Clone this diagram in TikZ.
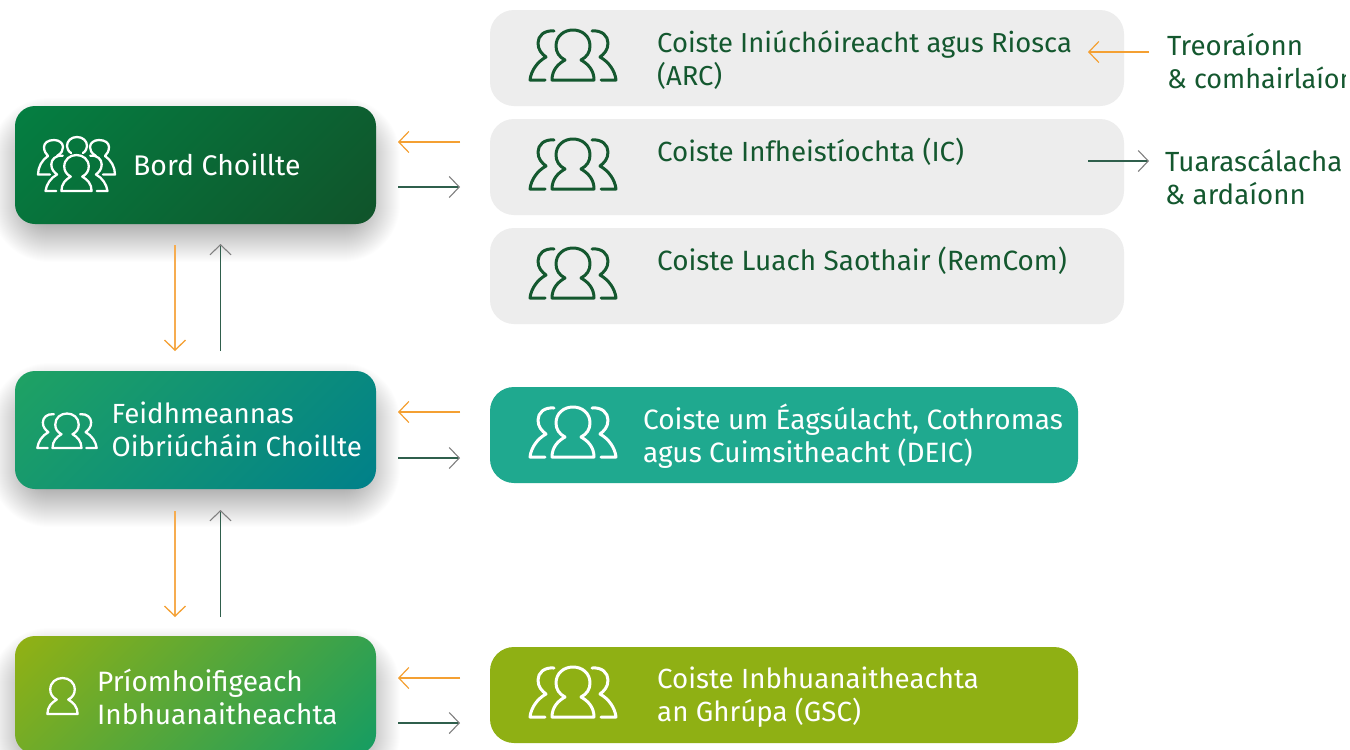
\documentclass[tikz,border=0pt]{standalone}
\usepackage{fontspec}
\setmainfont{Fira Sans}
\usetikzlibrary{arrows.meta}
\definecolor{dkgreen}{HTML}{14582F}
\definecolor{orangeln}{HTML}{F4A032}
\definecolor{orangelt}{HTML}{F6AC50}
\definecolor{tealln}{HTML}{2F5F4C}
\definecolor{greybox}{HTML}{EDEDED}
\definecolor{deicc}{HTML}{1FA98F}
\definecolor{gscc}{HTML}{8FB014}
\definecolor{HTMLa}{HTML}{047F42}
\definecolor{HTMLb}{HTML}{10532A}
\definecolor{HTMLc}{HTML}{1FA263}
\definecolor{HTMLd}{HTML}{00808A}
\definecolor{HTMLe}{HTML}{93B113}
\definecolor{HTMLf}{HTML}{149C63}
\tikzset{
  lbl/.style={inner sep=0pt,anchor=west,align=left,font=\fontsize{27.7}{33}\selectfont},
  darktxt/.style={lbl,text=dkgreen},
  whitetxt/.style={lbl,text=white},
  orangearrow/.style={draw=orangeln,line width=1.2pt,-{Straight Barb[length=10pt,width=21pt,line width=1.2pt]}},
  orangevert/.style={draw=orangelt,line width=1.8pt,-{Straight Barb[length=10pt,width=21pt,line width=1.3pt,color=orangeln]}},
  greenarrow/.style={draw=tealln,line width=1.2pt,-{Straight Barb[length=10pt,width=21pt,line width=1.1pt,color=black!50]}},
  icon/.style={line width=3pt,line cap=round,line join=round},
  smallicon/.style={icon,line width=2.3pt},
  commbox/.style={rounded corners=24pt,inner sep=0pt,outer sep=0pt,anchor=north west},
  pic one/.pic={
    \draw[pic actions] (-21,0) -- (21,0) .. controls (21,-10) and (15,-16) .. (8,-20)
      .. controls (14,-23) and (17,-28) .. (17,-34) .. controls (17,-44) and (9,-50) .. (0,-50)
      .. controls (-9,-50) and (-17,-44) .. (-17,-34) .. controls (-17,-28) and (-14,-23) .. (-8,-20)
      .. controls (-15,-16) and (-21,-10) .. (-21,0) -- cycle;
  },
  pic sides/.pic={
    \draw[pic actions] (-19,-49) .. controls (-29,-50) and (-35,-44) .. (-35,-37)
      .. controls (-35,-30) and (-31,-26) .. (-27,-23) .. controls (-36,-18) and (-42,-9) .. (-43,0) -- (-28,0);
    \draw[pic actions] (19,-49) .. controls (29,-50) and (35,-44) .. (35,-37)
      .. controls (35,-30) and (31,-26) .. (27,-23) .. controls (36,-18) and (42,-9) .. (43,0) -- (28,0);
  }
}
\newcommand{\softshadow}[4]{%
  \foreach \g in {0,1,...,38}{
    \pgfmathsetmacro{\rr}{58-\g}
    \fill[black,opacity=0.0085,rounded corners=\rr pt]
      (#1-24+\g,#2-8+\g) rectangle (#3+24-\g,#4+38-\g);
  }}
\newcommand{\gradbox}[6]{%
  \begin{scope}
    \clip[rounded corners=20pt] (#1,#2) rectangle (#3,#4);
    \pgfmathsetmacro{\cx}{(#1+#3)/2}
    \pgfmathsetmacro{\cy}{(#2+#4)/2}
    \begin{scope}[transform canvas={rotate around={-45:(\cx,\cy)}}]
      \path[left color=#5,right color=#6] (\cx-170,\cy-300) rectangle (\cx+170,\cy+300);
    \end{scope}
  \end{scope}}
\begin{document}
\begin{tikzpicture}[x=1pt,y=-1pt]
\useasboundingbox (0,0) rectangle (1350,750);
\fill[white] (0,0) rectangle (1350,750);
\begin{scope}
\clip (0,0) rectangle (1345,750);

% shadows
\softshadow{15}{106}{376}{224}
\softshadow{15}{371}{376}{489}
\softshadow{15}{636}{376}{754}

% left boxes
\gradbox{15}{106}{376}{224}{HTMLa}{HTMLb}
\gradbox{15}{371}{376}{489}{HTMLc}{HTMLd}
\gradbox{15}{636}{376}{754}{HTMLe}{HTMLf}

% committee boxes
\node[commbox,fill=greybox,minimum width=634pt,minimum height=96pt] (arc) at (490,10) {};
\node[commbox,fill=greybox,minimum width=634pt,minimum height=96pt] (ic) at (490,119) {};
\node[commbox,fill=greybox,minimum width=634pt,minimum height=96pt] (rem) at (490,228) {};
\node[commbox,fill=deicc,minimum width=588pt,minimum height=96pt] (deic) at (490,387) {};
\node[commbox,fill=gscc,minimum width=588pt,minimum height=96pt] (gsc) at (490,647) {};

% labels
\node[whitetxt,font=\fontsize{28.4}{33}\selectfont] (t1) at (133,165) {Bord Choillte};
\node[whitetxt] (t2) at (111.5,429.5) {Feidhmeannas\\Oibriúcháin Choillte};
\node[whitetxt,font=\fontsize{28}{33}\selectfont] (t3) at (97,697) {Príomhoifigeach\\Inbhuanaitheachta};
\node[darktxt,font=\fontsize{27.4}{33}\selectfont] (t4) at (657,60) {Coiste Iniúchóireacht agus Riosca\\(ARC)};
\node[darktxt] (t5) at (657,152) {Coiste Infheistíochta (IC)};
\node[darktxt,font=\fontsize{27.9}{33}\selectfont] (t6) at (657,261) {Coiste Luach Saothair (RemCom)};
\node[whitetxt,font=\fontsize{28}{33}\selectfont] (t7) at (643,436) {Coiste um Éagsúlacht, Cothromas\\agus Cuimsitheacht (DEIC)};
\node[whitetxt] (t8) at (657,697) {Coiste Inbhuanaitheachta\\an Ghrúpa (GSC)};
\node[darktxt] (t9) at (1167,61.5) {Treoraíonn\\{\fontsize{27}{33}\selectfont\& comhairlaíonn}};
\node[darktxt] (t10) at (1165,177) {Tuarascálacha\\\& ardaíonn};

% icons: three-person
\foreach \yb/\cc in {80/dkgreen,189/dkgreen,298/dkgreen,457/white,717/white}{
  \pic[icon,draw=\cc] at (573,\yb) {pic one};
  \pic[icon,draw=\cc] at (573,\yb) {pic sides};
}
% Feidhmeannas icon
\pic[smallicon,draw=white,scale=.69] at (67,448) {pic one};
\pic[smallicon,draw=white,scale=.69] at (67,448) {pic sides};
% Priomh icon
\pic[smallicon,draw=white,scale=.72] at (62.5,714) {pic one};
% Bord icon
\pic[smallicon,draw=white,scale=.72] at (76.5,191) {pic one};
\pic[smallicon,draw=white,scale=.72] at (76.5,191) {pic sides};
\draw[smallicon,draw=white] (57,156) .. controls (62,153) and (63,150) .. (63,147)
  .. controls (63,143) and (59,140) .. (54,140) .. controls (48,140) and (44,143) .. (44,147)
  .. controls (44,151) and (46,154) .. (48,156) .. controls (42,160) and (38,167) .. (38,174.5) -- (50,174.5);
\draw[smallicon,draw=white] (96,156) .. controls (91,153) and (90,150) .. (90,147)
  .. controls (90,143) and (94,140) .. (99,140) .. controls (105,140) and (109,143) .. (109,147)
  .. controls (109,151) and (107,154) .. (105,156) .. controls (111,160) and (115,167) .. (115,174.5) -- (103,174.5);
\draw[smallicon,draw=white] (71,153) .. controls (68,151) and (67,148) .. (67,146)
  .. controls (67,141) and (71,137) .. (77,137) .. controls (83,137) and (87,141) .. (87,146)
  .. controls (87,148) and (86,151) .. (83,153);

% arrow end points
\foreach \n/\x/\y in {a1s/460/142,a1e/398/142,a2s/398/187,a2e/460/187,
  a3s/175/245,a3e/175/351,a4s/220.5/351,a4e/220.5/244,
  a5s/460/412,a5e/398/412,a6s/398/458,a6e/460/458,
  a7s/175/511,a7e/175/617,a8s/220.5/617,a8e/220.5/510,
  a9s/460/678,a9e/398/678,a10s/398/723,a10e/460/723,
  a11s/1149/52,a11e/1088/52,a12s/1088/161,a12e/1149/161}{
  \coordinate (\n) at (\x,\y);
}
\foreach \i in {1,5,9,11}{ \draw[orangearrow] (a\i s) -- (a\i e); }
\foreach \i in {3,7}{ \draw[orangevert] (a\i s) -- (a\i e); }
\foreach \i in {2,4,6,8,10,12}{ \draw[greenarrow] (a\i s) -- (a\i e); }
\end{scope}
\end{tikzpicture}
\end{document}
